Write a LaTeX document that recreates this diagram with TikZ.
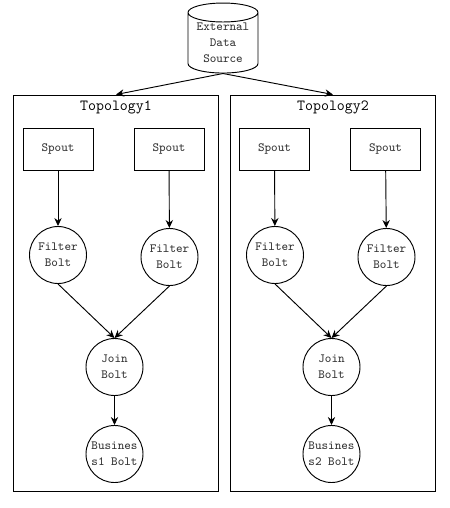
\documentclass[tikz,border=0pt]{standalone}
\usetikzlibrary{shapes.geometric,arrows.meta}
\begin{document}
\begin{tikzpicture}[x=.75pt,y=-.75pt,line width=.7pt,
    every node/.style={font=\fontsize{9.4}{12}\selectfont\ttfamily,align=center,inner sep=0pt,text=black!80},
    spoutbox/.style={draw,minimum width=52.5pt,minimum height=31.5pt},
    boltcircle/.style={draw,circle,minimum size=42.75pt},
    topologybox/.style={draw,minimum width=153.75pt,minimum height=297pt},
    titlelabel/.style={font=\fontsize{11.6}{13}\selectfont\ttfamily,text=black},
    flow/.style={-{Stealth[length=6pt,width=5.5pt]}}]
    \useasboundingbox (0,0) rectangle (450,508);

    % Fuente de datos.
    \node[draw,cylinder,shape border rotate=90,shape aspect=.36,minimum width=52.5pt,minimum height=52.5pt] (source) at (223,43) {External\\Data\\Source};

    % Topologias.
    \node[topologybox] (box1) at (116,293) {};
    \node[topologybox] (box2) at (333,293) {};
    \node[titlelabel] (title1) at (116,107) {Topology1};
    \node[titlelabel] (title2) at (333,107) {Topology2};
    \draw[flow] (source.south) -- (box1.north);
    \draw[flow] (source.south) -- (box2.north);

    % Topology1.
    \node[spoutbox] (spout11) at (58,149) {Spout};
    \node[spoutbox] (spout12) at (169,149) {Spout};
    \node[boltcircle] (filter11) at (58,255) {Filter\\Bolt};
    \node[boltcircle] (filter12) at (169.5,257) {Filter\\Bolt};
    \node[boltcircle] (join1) at (114.5,367) {Join\\Bolt};
    \node[boltcircle] (business1) at (114.5,454) {Busines\\s1 Bolt};
    \draw[flow] (spout11) -- (filter11);
    \draw[flow] (spout12) -- (filter12);
    \draw[flow] (filter11.south) -- (join1.north);
    \draw[flow] (filter12.south) -- (join1.north);
    \draw[flow] (join1) -- (business1);

    % Topology2.
    \node[spoutbox] (spout21) at (274.5,149) {Spout};
    \node[spoutbox] (spout22) at (385.5,149) {Spout};
    \node[boltcircle] (filter21) at (275,255) {Filter\\Bolt};
    \node[boltcircle] (filter22) at (386.5,257) {Filter\\Bolt};
    \node[boltcircle] (join2) at (331.5,367) {Join\\Bolt};
    \node[boltcircle] (business2) at (331.5,454) {Busines\\s2 Bolt};
    \draw[flow] (spout21) -- (filter21);
    \draw[flow] (spout22) -- (filter22);
    \draw[flow] (filter21.south) -- (join2.north);
    \draw[flow] (filter22.south) -- (join2.north);
    \draw[flow] (join2) -- (business2);
\end{tikzpicture}
\end{document}
